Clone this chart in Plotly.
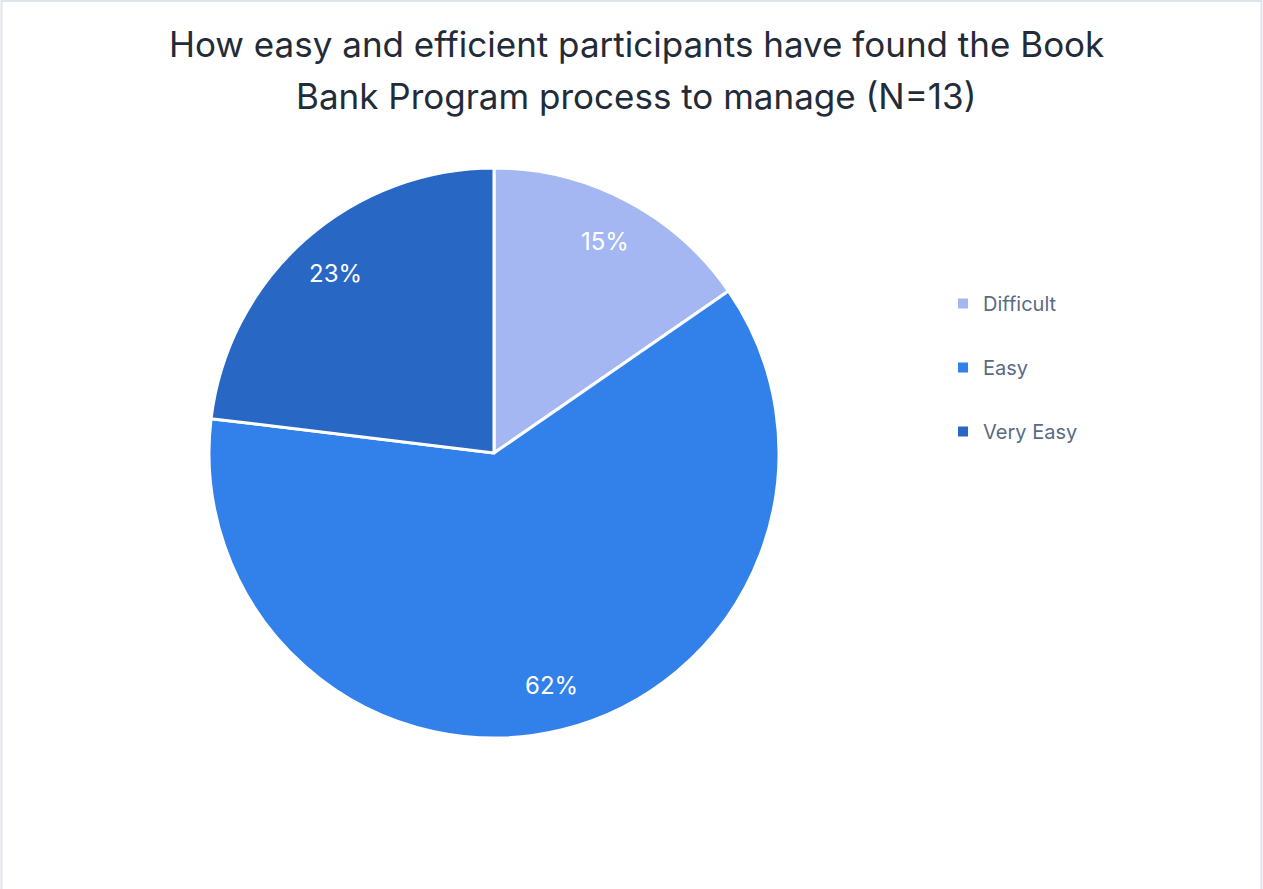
import math
import plotly.graph_objects as go

# Survey responses (N=13)
categories = ["Difficult", "Easy", "Very Easy"]
counts = [2, 8, 3]
colors = ["#a5b7f2", "#3281ea", "#2868c4"]
title_lines = [
    "How easy and efficient participants have found the Book",
    "Bank Program process to manage (N=13)",
]

W, H = 1263, 889
FONT = "Inter"

# pie placement in pixels -> paper fractions (margins are zero)
cx, cy, r = 494, 453, 285
dom_x = [(cx - r) / W, (cx + r) / W]
dom_y = [(H - (cy + r)) / H, (H - (cy - r)) / H]

fig = go.Figure()
fig.add_trace(go.Pie(
    labels=categories,
    values=counts,
    sort=False,
    direction="clockwise",
    rotation=0,
    marker=dict(colors=colors, line=dict(color="white", width=3)),
    textinfo="none",
    hoverinfo="label+percent",
    showlegend=False,
    domain=dict(x=dom_x, y=dom_y),
))

# percentage labels along each slice bisector
total = sum(counts)
start = 0.0
annotations = []
for cat, v in zip(categories, counts):
    frac = v / total
    mid = (start + frac / 2) * 2 * math.pi
    start += frac
    px = cx + 0.84 * r * math.sin(mid)
    py = cy - 0.84 * r * math.cos(mid)
    annotations.append(dict(
        x=px / W, y=1 - py / H, xref="paper", yref="paper",
        text=f"{round(frac * 100)}%", showarrow=False,
        font=dict(family=FONT, size=24, color="white"),
        xanchor="center", yanchor="middle",
    ))

# two-line title
for i, line in enumerate(title_lines):
    annotations.append(dict(
        x=636 / W, y=1 - (44 + 52 * i) / H, xref="paper", yref="paper",
        text=line, showarrow=False,
        font=dict(family=FONT, size=35, color="#222b37"),
        xanchor="center", yanchor="middle",
    ))

# legend entries
for cat, col in zip(categories, colors):
    fig.add_trace(go.Scatter(
        x=[None], y=[None], mode="markers", name=cat, legendgroup=cat,
        marker=dict(symbol="square", size=10, color=col),
        showlegend=True,
    ))

fig.update_layout(
    width=W, height=H,
    margin=dict(l=0, r=0, t=0, b=0),
    paper_bgcolor="white", plot_bgcolor="white",
    xaxis=dict(visible=False), yaxis=dict(visible=False),
    annotations=annotations,
    legend=dict(
        x=943 / W, y=1 - 284 / H, xanchor="left", yanchor="top",
        font=dict(family=FONT, size=20, color="#5a6a85"),
        tracegroupgap=35, bgcolor="rgba(0,0,0,0)",
    ),
    shapes=[dict(
        type="rect", xref="paper", yref="paper",
        x0=1.5 / W, x1=1 - 1.5 / W, y0=-0.01, y1=1 - 1 / H,
        line=dict(color="#dfe4ec", width=2), layer="below",
    )],
)

fig.write_html("out.html")
